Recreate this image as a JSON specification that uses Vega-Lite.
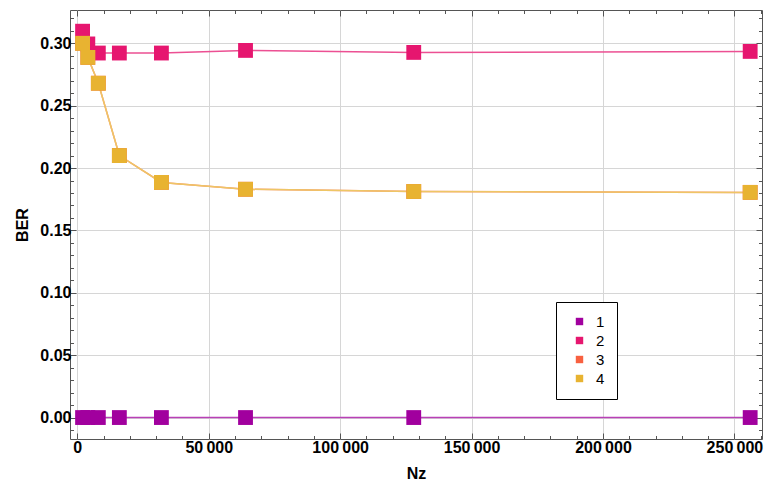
{
  "$schema": "https://vega.github.io/schema/vega-lite/v6.json",
  "autosize": {"type": "none"},
  "padding": {"left": 70, "top": 10, "right": 5, "bottom": 50},
  "width": 692,
  "height": 429,
  "background": "white",
  "config": {
    "view": {"stroke": "#555555", "strokeWidth": 1},
    "font": "Liberation Sans",
    "axis": {"labelFont": "Liberation Sans", "titleFont": "Liberation Sans", "labelFontWeight": "bold", "titleFontWeight": "bold", "labelFontSize": 16, "titleFontSize": 16, "labelColor": "#000", "titleColor": "#000", "domain": false, "tickColor": "#555", "gridColor": "#d6d6d6", "gridWidth": 1}
  },
  "datasets": {
    "main": [
      {"series": "1", "Nz": 2000, "BER": 0.0},
      {"series": "1", "Nz": 4000, "BER": 0.0},
      {"series": "1", "Nz": 8000, "BER": 0.0},
      {"series": "1", "Nz": 16000, "BER": 0.0},
      {"series": "1", "Nz": 32000, "BER": 0.0},
      {"series": "1", "Nz": 64000, "BER": 0.0},
      {"series": "1", "Nz": 128000, "BER": 0.0},
      {"series": "1", "Nz": 256000, "BER": 0.0},
      {"series": "2", "Nz": 2000, "BER": 0.3097},
      {"series": "2", "Nz": 4000, "BER": 0.2995},
      {"series": "2", "Nz": 8000, "BER": 0.2922},
      {"series": "2", "Nz": 16000, "BER": 0.2922},
      {"series": "2", "Nz": 32000, "BER": 0.2922},
      {"series": "2", "Nz": 64000, "BER": 0.2943},
      {"series": "2", "Nz": 128000, "BER": 0.2927},
      {"series": "2", "Nz": 256000, "BER": 0.2935},
      {"series": "3", "Nz": 2000, "BER": 0.3000},
      {"series": "3", "Nz": 4000, "BER": 0.2887},
      {"series": "3", "Nz": 8000, "BER": 0.2680},
      {"series": "3", "Nz": 16000, "BER": 0.2100},
      {"series": "3", "Nz": 32000, "BER": 0.1885},
      {"series": "3", "Nz": 64000, "BER": 0.1830},
      {"series": "3", "Nz": 128000, "BER": 0.1812},
      {"series": "3", "Nz": 256000, "BER": 0.1805},
      {"series": "4", "Nz": 2000, "BER": 0.3000},
      {"series": "4", "Nz": 4000, "BER": 0.2887},
      {"series": "4", "Nz": 8000, "BER": 0.2680},
      {"series": "4", "Nz": 16000, "BER": 0.2100},
      {"series": "4", "Nz": 32000, "BER": 0.1885},
      {"series": "4", "Nz": 64000, "BER": 0.1830},
      {"series": "4", "Nz": 128000, "BER": 0.1812},
      {"series": "4", "Nz": 256000, "BER": 0.1805}
    ]
  },
  "data": {"name": "main"},
  "resolve": {"axis": {"x": "independent", "y": "independent"}, "scale": {"color": "independent"}},
  "layer": [
    {
      "mark": {"type": "line", "strokeWidth": 1.5},
      "encoding": {
        "x": {"field": "Nz", "type": "quantitative", "scale": {"domain": [-2780, 260500], "nice": false, "zero": false},
          "axis": {"orient": "bottom", "title": "Nz", "values": [0, 50000, 100000, 150000, 200000, 250000], "labelExpr": "replace(format(datum.value, ',d'), ',', '\u2009')", "grid": true, "tickSize": -6, "labelPadding": 6, "titlePadding": 10}},
        "y": {"field": "BER", "type": "quantitative", "scale": {"domain": [-0.0172, 0.3267], "nice": false, "zero": false},
          "axis": {"orient": "left", "title": "BER", "values": [0, 0.05, 0.1, 0.15, 0.2, 0.25, 0.3], "format": ".2f", "grid": true, "tickSize": -6, "labelPadding": 5, "titlePadding": 9}},
        "color": {"field": "series", "type": "nominal", "legend": null,
          "scale": {"domain": ["1", "2", "3", "4"], "range": ["#b940b6", "#ec5093", "#fa8870", "#eec665"]}},
        "detail": {"field": "series"}
      }
    },
    {
      "mark": {"type": "square", "filled": true, "size": 220, "opacity": 1},
      "encoding": {
        "x": {"field": "Nz", "type": "quantitative", "axis": {"orient": "top", "title": null, "values": [0, 50000, 100000, 150000, 200000, 250000], "labels": false, "grid": false, "tickSize": -6}},
        "y": {"field": "BER", "type": "quantitative", "axis": {"orient": "right", "title": null, "values": [0, 0.05, 0.1, 0.15, 0.2, 0.25, 0.3], "labels": false, "grid": false, "tickSize": -6}},
        "color": {"field": "series", "type": "nominal",
          "scale": {"domain": ["1", "2", "3", "4"], "range": ["#a1009e", "#e6166f", "#f86040", "#e8b331"]},
          "legend": {"title": null, "orient": "none", "legendX": 486, "legendY": 292, "symbolType": "square", "symbolSize": 55, "labelFontSize": 15, "labelFont": "Liberation Sans", "labelColor": "#000", "strokeColor": "#000", "fillColor": "white", "padding": 12, "rowPadding": 3, "symbolOffset": 4, "symbolStrokeWidth": 0.5, "symbolOpacity": 1, "labelOffset": 9}}
      }
    },
    {
      "mark": {"type": "point", "opacity": 0},
      "encoding": {
        "x": {"field": "Nz", "type": "quantitative", "axis": {"orient": "bottom", "title": null, "values": [10000, 20000, 30000, 40000, 60000, 70000, 80000, 90000, 110000, 120000, 130000, 140000, 160000, 170000, 180000, 190000, 210000, 220000, 230000, 240000, 260000], "labels": false, "grid": false, "tickSize": -3.5}},
        "y": {"field": "BER", "type": "quantitative", "axis": {"orient": "left", "title": null, "values": [-0.01, 0.01, 0.02, 0.03, 0.04, 0.06, 0.07, 0.08, 0.09, 0.11, 0.12, 0.13, 0.14, 0.16, 0.17, 0.18, 0.19, 0.21, 0.22, 0.23, 0.24, 0.26, 0.27, 0.28, 0.29, 0.31, 0.32], "labels": false, "grid": false, "tickSize": -3.5}}
      }
    },
    {
      "mark": {"type": "point", "opacity": 0},
      "encoding": {
        "x": {"field": "Nz", "type": "quantitative", "axis": {"orient": "top", "title": null, "values": [10000, 20000, 30000, 40000, 60000, 70000, 80000, 90000, 110000, 120000, 130000, 140000, 160000, 170000, 180000, 190000, 210000, 220000, 230000, 240000, 260000], "labels": false, "grid": false, "tickSize": -3.5}},
        "y": {"field": "BER", "type": "quantitative", "axis": {"orient": "right", "title": null, "values": [-0.01, 0.01, 0.02, 0.03, 0.04, 0.06, 0.07, 0.08, 0.09, 0.11, 0.12, 0.13, 0.14, 0.16, 0.17, 0.18, 0.19, 0.21, 0.22, 0.23, 0.24, 0.26, 0.27, 0.28, 0.29, 0.31, 0.32], "labels": false, "grid": false, "tickSize": -3.5}}
      }
    }
  ]
}
